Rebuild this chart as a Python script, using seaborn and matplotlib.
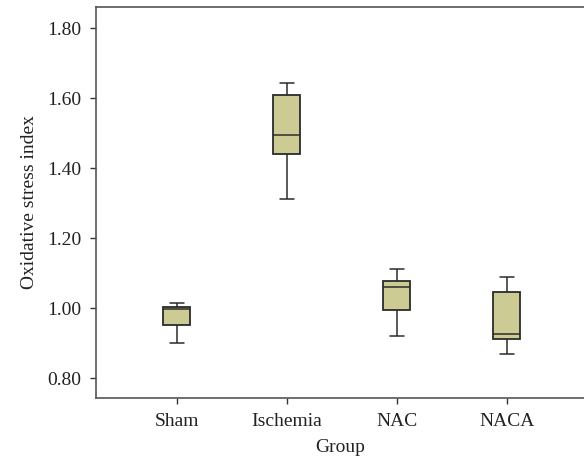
import numpy as np
import pandas as pd
import matplotlib
matplotlib.use("Agg")
import matplotlib.pyplot as plt
import seaborn as sns

# five-number summaries (min, q1, median, q3, max)
groups = ["Sham", "Ischemia", "NAC", "NACA"]
sham = [0.902, 0.952, 0.999, 1.003, 1.016]
ischemia = [1.311, 1.441, 1.495, 1.609, 1.645]
nac = [0.922, 0.995, 1.062, 1.079, 1.111]
naca = [0.869, 0.911, 0.927, 1.046, 1.090]
yticks = [0.80, 1.00, 1.20, 1.40, 1.60, 1.80]

df = pd.DataFrame({
    "Group": np.repeat(groups, 5),
    "value": sham + ischemia + nac + naca,
})

sns.set_style("white")
plt.rcParams["font.family"] = ["Liberation Serif", "DejaVu Serif"]

fig = plt.figure(figsize=(5.84, 4.61), dpi=100)
ax = fig.add_axes([96 / 584, 63.3 / 461, 1 - 96 / 584, 390.4 / 461])

edge = "#2b2b2b"
sns.boxplot(data=df, x="Group", y="value", order=groups, ax=ax,
            whis=(0, 100), width=0.25, color="#cbcb93", saturation=1,
            linewidth=1.1, linecolor=edge,
            medianprops=dict(color=edge, linewidth=1.1),
            capprops=dict(color=edge, linewidth=1.1),
            whiskerprops=dict(color=edge, linewidth=1.1),
            boxprops=dict(edgecolor=edge, linewidth=1.3))

ax.set_xlim(-0.734, 3.703)
ax.set_ylim(0.7446, 1.86)
ax.set_yticks(yticks)
ax.set_yticklabels([f"{v:.2f}" for v in yticks])

for side in ["left", "bottom", "top"]:
    ax.spines[side].set_color("#555555")
    ax.spines[side].set_linewidth(1.2)
ax.spines["right"].set_visible(False)

ax.tick_params(axis="both", direction="out", length=4.3, width=1.0,
               color="#333333", labelsize=14, labelcolor="#222222",
               left=True, bottom=True)
ax.tick_params(axis="y", pad=6)
ax.tick_params(axis="x", pad=7)
ax.set_xlabel("Group", fontsize=14, color="#222222", labelpad=6)
ax.set_ylabel("Oxidative stress index", fontsize=14, color="#222222",
              labelpad=7)

fig.savefig("out.png", dpi=100)
